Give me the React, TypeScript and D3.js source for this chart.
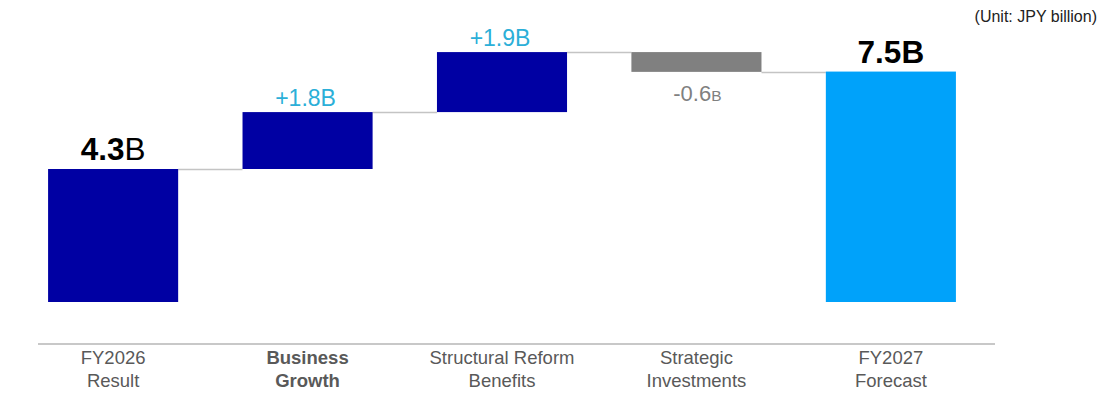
import React from "react";
import * as d3 from "d3";

const categories = ["FY2026|Result", "Business|Growth", "Structural Reform|Benefits", "Strategic|Investments", "FY2027|Forecast"];
const boldCategory = [false, true, false, false, false];
const kinds = ["total", "up", "up", "down", "total"];
// plotted magnitudes
const values = [4.3, 1.84, 1.94, -0.64, 7.45];
const labelNums = ["4.3", "+1.8", "+1.9", "-0.6", "7.5"];
const unitText = "(Unit: JPY billion)";

const W = 1106;
const H = 393;

export default function App() {
  const x = d3
    .scaleBand<string>()
    .domain(categories)
    .range([16, 988])
    .paddingInner(0.331)
    .paddingOuter(0.165);
  const y = d3.scaleLinear().domain([0, 4.3]).range([302, 169]);

  let cum = 0;
  const bars = values.map((v, i) => {
    let y0: number, y1: number;
    if (kinds[i] === "total") {
      y0 = 0;
      y1 = v;
      cum = v;
    } else {
      y0 = cum;
      y1 = cum + v;
      cum = y1;
    }
    return { i, lo: Math.min(y0, y1), hi: Math.max(y0, y1), end: y1, v };
  });

  const colorOf = (k: string, i: number) =>
    k === "total" ? (i === 0 ? "#0000A3" : "#00A2FA") : k === "up" ? "#0000A3" : "#808080";

  const bw = x.bandwidth();
  const font = "'Liberation Sans', Arial, sans-serif";

  return (
    <div style={{ position: "fixed", left: 0, top: 0, width: W, height: H, overflow: "hidden" }}>
      <svg width={W} height={H} style={{ display: "block", background: "#fff" }}>
        {bars.slice(0, -1).map((b, i) => {
          const yy = Math.round(y(b.end)) + 0.5;
          return (
            <line
              key={"c" + i}
              x1={(x(categories[i]) as number) + bw}
              x2={x(categories[i + 1]) as number}
              y1={yy}
              y2={yy}
              stroke="#c4c4c4"
              strokeWidth={1.3}
            />
          );
        })}
        {bars.map((b) => (
          <rect
            key={"b" + b.i}
            x={x(categories[b.i])}
            y={y(b.hi)}
            width={bw}
            height={y(b.lo) - y(b.hi)}
            fill={colorOf(kinds[b.i], b.i)}
          />
        ))}
        {bars.map((b) => {
          const cx = (x(categories[b.i]) as number) + bw / 2;
          const k = kinds[b.i];
          if (k === "total") {
            return (
              <text key={"l" + b.i} x={cx} y={y(b.hi) - 9} textAnchor="middle" fontFamily={font} fontSize={31.5} fill="#000">
                <tspan fontWeight="bold">{labelNums[b.i]}</tspan>
                <tspan fontWeight={b.i === 0 ? "normal" : "bold"}>B</tspan>
              </text>
            );
          }
          if (k === "up") {
            return (
              <text key={"l" + b.i} x={cx - 2} y={y(b.hi) - 6} textAnchor="middle" fontFamily={font} fontSize={23} fill="#2BAFD8">
                {labelNums[b.i]}B
              </text>
            );
          }
          return (
            <text key={"l" + b.i} x={cx + 1} y={y(b.lo) + 29} textAnchor="middle" fontFamily={font} fontSize={22} fill="#808080">
              {labelNums[b.i]}
              <tspan fontSize={15.5}>B</tspan>
            </text>
          );
        })}
        <line x1={38} x2={995} y1={344} y2={344} stroke="#c8c8c8" strokeWidth={2} />
        {categories.map((c, i) => {
          const cx = (x(c) as number) + bw / 2;
          const lines = c.split("|");
          return (
            <text
              key={"t" + i}
              textAnchor="middle"
              fontFamily={font}
              fontSize={18.5}
              fontWeight={boldCategory[i] ? "bold" : "normal"}
              fill="#595959"
            >
              {lines.map((ln, j) => (
                <tspan key={j} x={cx} y={364 + j * 23}>
                  {ln}
                </tspan>
              ))}
            </text>
          );
        })}
        <text x={1097} y={22} textAnchor="end" fontFamily={font} fontSize={16} fill="#222">
          {unitText}
        </text>
      </svg>
    </div>
  );
}
